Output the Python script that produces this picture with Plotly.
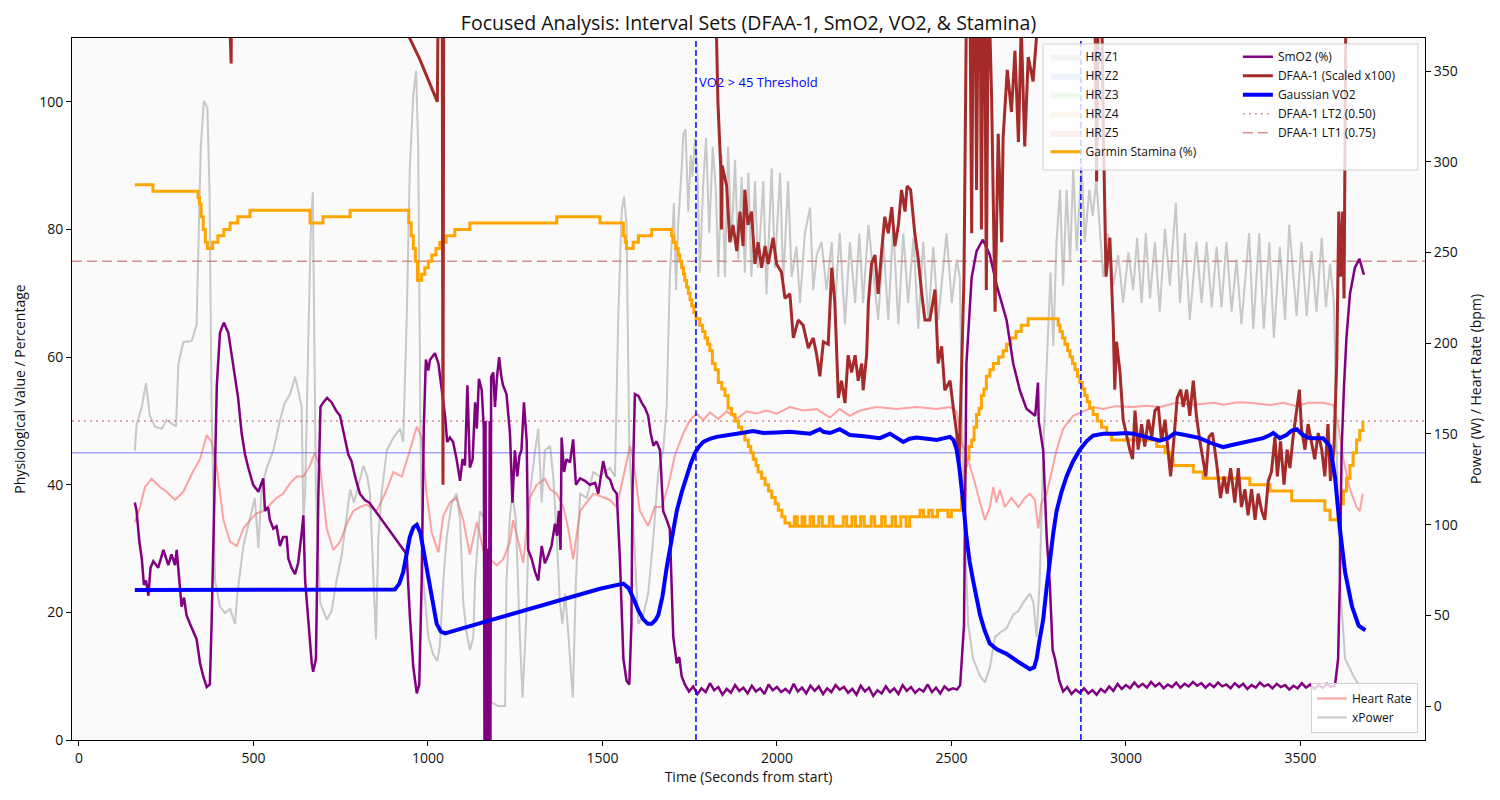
import plotly.graph_objects as go

# ---------------- DATA ----------------
stamina_t = [160, 212, 341, 345, 350, 356, 362, 368, 383, 398, 415, 433, 455, 490, 662, 699, 777,
             945, 952, 958, 964, 970, 982, 991, 1001, 1011, 1023, 1034, 1052, 1077, 1120, 1369, 1493,
             1560, 1565, 1569, 1588, 1603, 1641, 1698, 1703, 1710, 1717, 1722, 1727, 1732, 1736, 1741,
             1746, 1751, 1756, 1762, 1768, 1779, 1787, 1794, 1801, 1808, 1815, 1823, 1832, 1842, 1851,
             1860, 1870, 1880, 1890, 1899, 1908, 1918, 1925, 1932, 1940, 1946, 1956, 1966, 1976, 1985,
             1995, 2004, 2014, 2023, 2037, 2050, 2058, 2072, 2080, 2095, 2105, 2120, 2130, 2150, 2160,
             2190, 2200, 2215, 2225, 2240, 2250, 2270, 2280, 2300, 2310, 2330, 2340, 2355, 2370, 2380,
             2410, 2420, 2435, 2445, 2460, 2490, 2500, 2524, 2529, 2533, 2536, 2540, 2543, 2550, 2558,
             2565, 2572, 2579, 2586, 2593, 2600, 2610, 2620, 2635, 2648, 2658, 2670, 2685, 2700, 2720,
             2806, 2811, 2818, 2825, 2833, 2840, 2847, 2854, 2861, 2868, 2875, 2882, 2889, 2896, 2906,
             2918, 2930, 2945, 2959, 3088, 3112, 3125, 3135, 3193, 3221, 3355, 3413, 3475, 3570, 3585,
             3608, 3615, 3623, 3632, 3642, 3651, 3661, 3670, 3679]
stamina_v = [87, 86, 85, 84, 82, 80, 78, 77, 78, 79, 80, 81, 82, 83, 81, 82, 83,
             81, 79, 77, 75, 72, 73, 74, 75, 76, 77, 78, 79, 80, 81, 82, 81,
             79, 78, 77, 78, 79, 80, 79, 78, 77, 76, 75, 74, 73, 72, 71,
             70, 69, 68, 67, 66, 65, 64, 63, 62, 61, 59, 58, 56, 55, 54,
             52, 51, 50, 49, 48, 47, 46, 45, 44, 43, 42, 41, 40, 39, 38,
             37, 36, 35, 34, 33.5, 35, 33.5, 35, 33.5, 35, 33.5, 35, 33.5, 35, 33.5,
             35, 33.5, 35, 33.5, 35, 33.5, 35, 33.5, 35, 33.5, 35, 33.5, 35, 33.5, 35,
             36, 35, 36, 35, 36, 35, 36, 36, 38, 40, 42, 43, 44, 46, 47,
             49, 51, 52, 54, 55, 57, 58, 59, 60, 61, 62, 63, 64, 65, 66,
             65, 64, 63, 62, 61, 60, 59, 58, 57, 56, 55, 54, 53, 52, 51,
             50, 49, 48, 47, 46, 45, 44, 43, 42, 41, 40, 39, 37.5, 36, 34.5,
             36, 37, 39, 41, 43, 45, 47, 48.5, 50]

smo2_t = [160, 165, 173, 180, 186, 192, 199, 205, 213, 227, 242, 256, 265, 275, 280, 287, 294, 301,
          308, 318, 328, 337, 347, 356, 366, 375, 380, 387, 395, 404, 415, 428, 437, 447, 456, 466,
          476, 485, 499, 514, 528, 533, 542, 547, 557, 566, 576, 585, 595, 600, 609, 619, 628, 638,
          643, 648, 657, 667, 671, 679, 686, 692, 700, 711, 724, 738, 748, 762, 772, 781, 791, 805,
          819, 832, 939, 948, 958, 968, 975, 982, 988, 994, 1001, 1006, 1020, 1030, 1039, 1049, 1055,
          1063, 1072, 1082, 1092, 1099, 1106, 1113, 1120, 1128, 1135, 1140, 1146, 1154, 1160, 1162,
          1165, 1167, 1172, 1174, 1177, 1179, 1181, 1187, 1192, 1198, 1204, 1210, 1215, 1225, 1235,
          1242, 1249, 1256, 1262, 1268, 1275, 1283, 1287, 1297, 1307, 1316, 1326, 1335, 1345, 1354,
          1364, 1370, 1375, 1380, 1383, 1390, 1397, 1407, 1416, 1424, 1436, 1450, 1464, 1479, 1488,
          1502, 1512, 1522, 1531, 1541, 1550, 1560, 1569, 1577, 1583, 1586, 1593, 1603, 1612, 1622,
          1631, 1638, 1646, 1655, 1665, 1674, 1684, 1693, 1703, 1713, 1720, 1727, 1736, 1748, 1760,
          1772, 1784, 1796, 1808, 1820, 1832, 1844, 1856, 1868, 1880, 1892, 1904, 1916, 1928, 1940,
          1952, 1964, 1976, 1988, 2000, 2012, 2024, 2036, 2048, 2060, 2072, 2084, 2096, 2108, 2120,
          2132, 2144, 2156, 2168, 2180, 2192, 2204, 2216, 2228, 2240, 2252, 2264, 2276, 2288, 2300,
          2312, 2324, 2336, 2348, 2360, 2372, 2384, 2396, 2408, 2420, 2432, 2444, 2456, 2468, 2480,
          2492, 2504, 2516, 2525, 2536, 2543, 2558, 2572, 2590, 2610, 2630, 2658, 2677, 2696, 2715,
          2740, 2748, 2750, 2763, 2773, 2782, 2790, 2797, 2809, 2820, 2832, 2844, 2856, 2868, 2880,
          2892, 2904, 2916, 2928, 2940, 2952, 2964, 2976, 2988, 3000, 3012, 3024, 3036, 3048, 3060,
          3072, 3084, 3096, 3108, 3120, 3132, 3144, 3156, 3168, 3180, 3192, 3204, 3216, 3228, 3240,
          3252, 3264, 3276, 3288, 3300, 3312, 3324, 3336, 3348, 3360, 3372, 3384, 3396, 3408, 3420,
          3432, 3444, 3456, 3468, 3480, 3492, 3504, 3516, 3528, 3540, 3552, 3564, 3576, 3588, 3599,
          3608, 3613, 3618, 3625, 3632, 3642, 3656, 3669, 3682]
smo2_v = [37.2, 35.9, 31.1, 28.4, 24.3, 25, 22.6, 27, 28, 27, 29.8, 27.4, 29.1, 27.4, 29.8, 25, 20.9, 22.3,
          19.6, 18.2, 16.8, 15.8, 12, 10, 8.3, 8.7, 18.2, 38.6, 55.6, 63.8, 65.4, 63.8, 60.3, 56.3, 53.6, 48.1,
          44.7, 42.7, 40, 38.9, 41, 35.9, 36.5, 34.5, 33.1, 33.5, 30.4, 31.8, 31.8, 28.4, 27, 26, 27.7, 32.4,
          35.2, 25, 18.2, 12, 10.7, 12.7, 38.6, 52.2, 52.9, 53.6, 52.9, 51.5, 50.8, 47.4, 44.7, 43.7, 41.3, 38.6,
          37.6, 37.2, 29.1, 19.6, 11.4, 7.3, 8.7, 25, 48.8, 59.6, 57.9, 59.6, 60.6, 59, 54.9, 50.8, 46.7,
          47.4, 46.7, 44, 40.6, 44, 43, 55.6, 42.7, 44, 52.9, 48.8, 56.6, 54.9, 48.8, -2,
          50, -2, 30, -2, 50, -2, 56.9, 57.6, 52.2, 57, 60, 57, 55.6, 54.2, 48.1,
          37.2, 45.4, 41.3, 44.5, 45.4, 52.9, 46.8, 29.8, 28.4, 26.3, 25, 30.4, 27.7, 29, 30.4,
          33.9, 32, 35.9, 29.8, 47.4, 42, 44, 43.5, 47.1, 40, 41, 40.6, 40, 40.3, 38.6,
          43.7, 41.3, 40.8, 39.3, 38.6, 28.4, 12.7, 9.3, 8.7, 18.2, 38.6, 54.2, 53.9, 52.9, 52,
          50.8, 48.1, 46.1, 46.8, 45.4, 35.9, 34.5, 33.1, 16.1, 12, 13, 10, 8.7, 7.6, 8.4,
          7.2, 8.1, 7.5, 8.9, 7.8, 8.3, 7.1, 8.0, 7.4, 8.6, 7.7, 8.2, 7.3, 8.5, 7.6,
          8.1, 7.2, 8.7, 7.8, 8.3, 7.5, 8.0, 7.4, 8.8, 7.6, 8.2, 7.3, 8.5, 7.7, 8.4,
          7.2, 8.1, 7.5, 8.6, 7.9, 8.3, 7.4, 8.0, 7.1, 8.5, 7.6, 8.2, 6.9, 7.8, 7.3,
          8.4, 7.5, 8.1, 7.2, 8.6, 7.7, 8.3, 7.4, 8.0, 7.6, 8.7, 7.5, 8.2, 7.3, 8.4,
          7.8, 8.1, 7.9, 8.6, 18, 59, 72.5, 76.6, 78.4, 76, 71.2, 65.8, 59, 54.8, 51.9,
          50.8, 56, 50, 45.4, 31.8, 24.3, 14.1, 12.7, 9.3, 7.6, 8.3, 7.2, 7.9, 7.4, 8.1,
          7.3, 7.8, 7.1, 8.0, 7.5, 8.4, 7.7, 8.8, 8.0, 8.6, 8.1, 9.0, 8.3, 8.8, 8.2,
          9.1, 8.4, 8.9, 8.1, 8.7, 8.3, 9.0, 8.2, 8.8, 8.4, 9.1, 8.5, 8.9, 8.2, 8.8,
          8.3, 9.0, 8.4, 8.7, 8.1, 8.9, 8.3, 8.8, 8.0, 8.6, 8.2, 9.0, 8.4, 8.7, 8.1,
          8.8, 8.3, 8.6, 7.9, 8.5, 8.1, 8.9, 8.2, 8.7, 8.0, 8.6, 8.2, 8.8, 8.3, 8.5,
          12.7, 25, 45.4, 55.6, 63.1, 69.9, 74, 75.4, 72.9]

dfaa_t = [400, 428, 436, 440, 900, 930, 977, 1027, 1034, 1040, 1043, 1046, 1800, 1825, 1831, 1839,
          1841, 1843, 1856, 1865, 1874, 1885, 1894, 1903, 1908, 1917, 1927, 1937, 1946, 1956, 1966,
          1975, 1989, 1999, 2013, 2023, 2037, 2047, 2061, 2075, 2090, 2104, 2114, 2123, 2133, 2147,
          2157, 2166, 2176, 2185, 2195, 2204, 2214, 2224, 2233, 2243, 2247, 2257, 2262, 2271, 2281,
          2290, 2300, 2309, 2319, 2329, 2338, 2348, 2357, 2367, 2373, 2383, 2395, 2405, 2415, 2424,
          2438, 2453, 2462, 2472, 2481, 2496, 2505, 2515, 2522, 2529, 2536, 2543, 2550, 2558, 2565,
          2572, 2580, 2586, 2593, 2600, 2606, 2615, 2625, 2634, 2644, 2648, 2660, 2672, 2682, 2692,
          2700, 2710, 2720, 2734, 2753, 2800, 2905, 2916, 2925, 2935, 2943, 2954, 2964, 2968, 2973,
          2983, 2992, 3002, 3011, 3019, 3026, 3035, 3045, 3054, 3064, 3074, 3083, 3093, 3102, 3112,
          3121, 3128, 3137, 3147, 3157, 3164, 3174, 3183, 3193, 3202, 3212, 3221, 3229, 3238, 3248,
          3260, 3271, 3281, 3290, 3300, 3312, 3322, 3331, 3341, 3350, 3360, 3370, 3379, 3389, 3398,
          3408, 3417, 3427, 3434, 3443, 3453, 3462, 3470, 3479, 3489, 3497, 3503, 3513, 3522, 3532,
          3541, 3551, 3561, 3570, 3579, 3586, 3596, 3604, 3610, 3615, 3621, 3625, 3632, 3690]
dfaa_v = [150, 120, 106, 150, 150, 112, 106.6, 100, 150, 150, 40, 150, 150, 115, 99.8, 89.6,
          80, 90, 86.8, 78, 80.7, 76.6, 82.8, 77.4, 86.2, 80.7, 82.8, 74.6, 78, 74, 77.4,
          74.6, 78.7, 74.6, 73.3, 69.2, 69.9, 63, 65.8, 65, 61.4, 63, 60.3, 57, 62.4, 62,
          74, 68.5, 53.6, 56.3, 52.8, 60.3, 57.6, 60.3, 56.3, 59, 54.8, 60.3, 68.5, 74.6, 76,
          69.9, 76.6, 82, 79.4, 83.5, 77.4, 80.7, 86.2, 82.8, 86.8, 86.2, 79.4, 75.3, 69.9, 65.8,
          65.8, 70.6, 59, 61.7, 54.8, 56.3, 52.2, 48.1, 43.3, 59, 72.6, 115, 140, 79.4, 140,
          86.2, 140, 80, 140, 70.5, 120, 101, 67.1, 95, 78, 94.3, 105, 98.4, 108, 93.7,
          112, 93, 107, 103.2, 115, 150, 150, 87.5, 140, 96.4, 72.6, 78.7, 64.4, 54.9, 62.4,
          57.6, 50.2, 47.5, 45.5, 44, 51.6, 45.5, 49.5, 46, 50.2, 47.5, 51.6, 52.2, 46.8, 50.2,
          45.5, 41.3, 46.8, 53.6, 54.9, 52.2, 54.9, 50.8, 56.3, 50.8, 46.8, 44, 41.3, 47.5, 48.1,
          43.3, 37.9, 41.3, 38.6, 42.6, 37.2, 42.6, 36.5, 39.3, 35.2, 39.3, 34.5, 38.6, 35.9, 34.5,
          40.6, 42, 47.5, 41.3, 46.8, 40, 45.5, 42.6, 47.5, 51.6, 54.9, 48.8, 45.5, 49.5, 46.8,
          44, 48.1, 45.5, 41.3, 49.5, 40.6, 45.5, 59, 82.8, 72.6, 82.8, 69.2, 130, 150]

vo2_t = [160, 905, 918, 929, 948, 958, 968, 978, 987, 1006, 1015, 1025, 1037, 1049, 1187, 1330, 1493,
         1560, 1575, 1588, 1603, 1617, 1630, 1641, 1652, 1660, 1672, 1684, 1698, 1713, 1727, 1741,
         1753, 1765, 1777, 1789, 1808, 1827, 1856, 1885, 1932, 1961, 2000, 2037, 2095, 2123, 2133,
         2152, 2180, 2209, 2250, 2295, 2324, 2345, 2362, 2380, 2400, 2430, 2458, 2480, 2496, 2506,
         2515, 2522, 2529, 2536, 2543, 2552, 2562, 2572, 2582, 2595, 2610, 2630, 2658, 2690, 2725,
         2737, 2744, 2752, 2763, 2772, 2782, 2792, 2801, 2815, 2830, 2848, 2868, 2887, 2906, 2935,
         2970, 3000, 3021, 3050, 3075, 3097, 3120, 3140, 3170, 3212, 3245, 3279, 3310, 3355, 3393,
         3413, 3422, 3441, 3460, 3475, 3490, 3505, 3520, 3537, 3565, 3585, 3599, 3613, 3628, 3648,
         3667, 3686]
vo2_v = [23.5, 23.6, 24.5, 26.3, 31.8, 33.3, 33.7, 32.5, 29.8, 23.7, 20.5, 18.2, 17, 16.7, 18.9, 21.2, 23.7,
         24.5, 23.8, 22.3, 20.3, 18.9, 18.2, 18.2, 18.8, 19.6, 22.5, 27, 31.5, 35.9, 38.8, 41.3,
         43.3, 45, 46, 46.7, 47.2, 47.5, 47.8, 48, 48.4, 48.1, 48.2, 48.3, 48, 48.7, 48.3,
         48.1, 48.7, 47.8, 47.6, 47.3, 48, 47.3, 46.7, 47.2, 47.4, 47.2, 47, 47.3, 47.5, 47,
         45.5, 43, 40, 36, 31.8, 28, 25, 22, 19.6, 17.2, 15.1, 14.2, 13.5, 12.3, 11.1,
         11.4, 12.7, 15.5, 18.9, 23.5, 28.4, 32.5, 35.8, 38.8, 41.3, 43.6, 45.5, 46.8, 47.7, 48,
         48, 48.1, 48, 47.6, 47.3, 46.9, 47.3, 48.1, 47.8, 47.3, 46.5, 45.9, 46.3, 46.9, 47.3,
         47.8, 48.1, 47.3, 47.8, 48.5, 48.7, 47.9, 47.4, 47.3, 47.3, 46, 41.3, 33.2, 26.3, 20.9,
         17.9, 17.2]

hr_t = [160, 175, 189, 208, 232, 251, 275, 299, 323, 347, 366, 380, 395, 414, 433, 452, 471, 490, 509,
        528, 547, 566, 585, 605, 624, 643, 662, 676, 691, 710, 729, 748, 767, 786, 805, 824, 853, 877,
        901, 925, 948, 968, 982, 996, 1011, 1030, 1044, 1063, 1082, 1101, 1120, 1140, 1159, 1178, 1197,
        1216, 1235, 1244, 1259, 1273, 1292, 1311, 1335, 1350, 1369, 1388, 1402, 1416, 1436, 1455, 1474,
        1493, 1521, 1541, 1560, 1579, 1588, 1607, 1631, 1650, 1670, 1689, 1708, 1732, 1751, 1770, 1789,
        1808, 1832, 1856, 1885, 1913, 1942, 1970, 1999, 2037, 2075, 2114, 2152, 2180, 2209, 2238, 2285,
        2343, 2400, 2458, 2496, 2515, 2529, 2543, 2562, 2582, 2596, 2610, 2620, 2629, 2639, 2653, 2672,
        2692, 2710, 2725, 2739, 2749, 2758, 2773, 2782, 2792, 2801, 2820, 2849, 2878, 2906, 2935, 2970,
        3021, 3060, 3097, 3145, 3193, 3252, 3279, 3320, 3355, 3413, 3451, 3489, 3522, 3565, 3594, 3608,
        3623, 3642, 3661, 3670, 3679]
hr_v = [101.4, 109.7, 120.7, 125.3, 120.7, 118.1, 113.6, 118.1, 127.9, 136.2, 149.4, 145.6, 131.3, 102.5,
        90.6, 88.2, 97.8, 102.5, 106.2, 107.5, 111, 114.7, 117, 122.9, 126.5, 126.5, 132.5, 139.7, 131.3,
        97.8, 86, 90.6, 100.3, 107.5, 109.7, 111, 107.5, 117, 129, 126.5, 140.8, 154, 148, 117, 95.4,
        84.7, 105, 112.2, 114.7, 102.5, 83.5, 101.4, 86, 81, 77.5, 81, 90.6, 102.5, 90.6, 78.8, 114.7,
        121.8, 125.3, 119.4, 117, 109.7, 97.8, 81, 107.5, 112.2, 117, 115.8, 113.6, 109.7, 126.5, 143.3,
        136.2, 107.5, 99.2, 109.7, 109.7, 121.8, 138.4, 150.5, 157.7, 161.2, 157.7, 161.9, 158.2, 162.4,
        158.2, 162.4, 161.2, 162.9, 161.2, 164.8, 162.9, 163.7, 159, 163.7, 160, 162.9, 164.8, 163.7,
        164.8, 163.7, 164.8, 162.4, 145.6, 138.5, 126.5, 112.2, 102.5, 109.7, 120.7, 112.2, 119.4, 109.7,
        114.7, 109.7, 114.7, 117, 113.6, 97.8, 112.2, 117, 125.3, 133.7, 140.8, 152.8, 160, 162.4, 164.8,
        163.7, 165.3, 164.8, 165.5, 164.8, 167.2, 166.1, 167.2, 166.1, 167.5, 167.2, 165.9, 167.2, 165.3,
        167.2, 167.2, 165.9, 155.1, 136.2, 119.4, 109.7, 107.5, 117]

xpower_t = [160, 165, 180, 192, 203, 218, 237, 251, 278, 285, 299, 323, 337, 342, 349, 358, 368, 374, 380,
            390, 404, 418, 433, 447, 454, 471, 490, 504, 514, 523, 538, 557, 576, 590, 605, 619, 628, 638,
            643, 648, 657, 664, 670, 673, 679, 691, 710, 724, 738, 753, 762, 777, 788, 800, 815, 826, 834,
            844, 851, 858, 867, 882, 901, 920, 929, 939, 948, 958, 966, 972, 979, 987, 1001, 1015, 1027,
            1034, 1044, 1054, 1068, 1082, 1092, 1101, 1111, 1120, 1130, 1135, 1149, 1163, 1173, 1182, 1201,
            1221, 1225, 1235, 1242, 1252, 1262, 1271, 1281, 1292, 1307, 1316, 1326, 1335, 1350, 1359, 1369,
            1378, 1385, 1393, 1402, 1415, 1424, 1436, 1455, 1474, 1493, 1521, 1536, 1545, 1555, 1562, 1569,
            1577, 1584, 1593, 1603, 1617, 1631, 1646, 1660, 1674, 1684, 1693, 1705, 1711, 1717, 1727, 1732,
            1738, 1746, 1753, 1758, 1765, 1772, 1779, 1789, 1797, 1806, 1816, 1825, 1832, 1842, 1851, 1860,
            1870, 1880, 1889, 1899, 1908, 1918, 1927, 1937, 1946, 1961, 1970, 1985, 1994, 2009, 2018, 2032,
            2042, 2056, 2066, 2080, 2095, 2104, 2114, 2128, 2142, 2157, 2166, 2180, 2195, 2209, 2224, 2236,
            2247, 2262, 2290, 2305, 2319, 2333, 2348, 2362, 2376, 2391, 2405, 2419, 2434, 2448, 2462, 2486,
            2501, 2515, 2524, 2532, 2539, 2548, 2562, 2582, 2596, 2610, 2625, 2639, 2658, 2677, 2692, 2706,
            2725, 2735, 2744, 2753, 2763, 2777, 2784, 2792, 2801, 2811, 2820, 2830, 2840, 2849, 2859, 2873,
            2882, 2895, 2905, 2915, 2925, 2935, 2949, 2964, 2978, 2992, 3007, 3021, 3032, 3045, 3057, 3069,
            3083, 3097, 3112, 3126, 3143, 3155, 3169, 3183, 3202, 3217, 3231, 3246, 3260, 3274, 3288, 3303,
            3317, 3331, 3353, 3365, 3382, 3395, 3411, 3424, 3441, 3456, 3468, 3489, 3503, 3518, 3532, 3546,
            3561, 3573, 3585, 3596, 3604, 3613, 3628, 3652, 3667, 3676]
xpower_v = [140.8, 155.1, 164.8, 178, 160, 154, 152.8, 157.7, 154, 188.7, 200.7, 201.2, 210.3, 255.8, 308.3,
            333.5, 329.8, 284.5, 164.8, 69.1, 54.8, 51.3, 53.5, 45.2, 62, 88.2, 102.5, 114.7, 87.1, 119.4,
            131.3, 140.8, 157.7, 167.2, 172, 181.5, 174.4, 164.8, 102.5, 117, 200.7, 260.5, 283.2, 236.5,
            117, 57.2, 47.6, 52.4, 69.1, 83.5, 97.8, 119.4, 112.2, 121.8, 132.5, 126.5, 117, 69.1, 36.9,
            93.2, 117, 140.8, 148, 152.8, 145.6, 212.8, 296.3, 337, 350.2, 308.3, 140.8, 69.1, 38, 28.4,
            24.8, 33.2, 69.1, 93.2, 112.2, 117, 102.5, 57.2, 40.4, 30.9, 38, 69.1, 107.5, 102.5, 45.2, 2.2,
            0, 0, 69.1, 105, 117, 102.5, 45.2, 4.6, 45.2, 117, 140.8, 152.8, 112.2, 140.8, 143.3, 126.5,
            93.2, 57.2, 45.2, 62, 40.4, 4.6, 69.1, 117, 114.7, 129, 126.5, 131.3, 126.5, 212.8, 272.4,
            280.8, 265.2, 140.8, 117, 81, 45.2, 50.4, 62, 93.2, 129, 140.8, 164.8, 236.5, 277.3, 229.3,
            265.2, 296.3, 315.4, 317.9, 272.4, 303.5, 291.6, 313, 296.3, 238.9, 289.2, 313, 260.5, 308.3,
            284.5, 236.5, 303.5, 236.5, 308.3, 255.8, 301.1, 246.1, 291.6, 238.9, 293.9, 236.5, 289.2,
            241.5, 289.2, 227, 296.3, 241.5, 293.9, 234.3, 289.2, 236.5, 253.3, 222.2, 260.5, 274.8, 229.3,
            248.6, 255.8, 229.3, 255.8, 219.8, 260.5, 210.3, 255.8, 222.2, 260.5, 222.2, 265.2, 212.8,
            255.8, 212.8, 265.2, 210.3, 260.5, 222.2, 258, 207.9, 255.8, 212.8, 253.3, 212.8, 260.5, 222.2,
            246.1, 236.5, 140.8, 93.2, 45.2, 26.1, 16.6, 13, 21.3, 38, 40.4, 42.8, 50.4, 52.4, 57.2, 62, 57,
            38, 69.1, 140.8, 212.8, 238.9, 198.5, 255.8, 284.5, 231.7, 284.5, 245, 296.3, 250.8, 298.8,
            255.8, 284.5, 270, 290, 265.2, 236.5, 260.5, 231.7, 248.6, 222.2, 250, 229.3, 258, 222.2, 260.5,
            224.6, 255.8, 217.4, 263, 231.7, 277.3, 222.2, 260.5, 212.8, 255.8, 222.2, 255.8, 219.8, 253.3,
            219.8, 255.8, 217.4, 246.1, 210.3, 260.5, 207.9, 260.5, 207.9, 255.8, 203, 253.3, 212.8, 265.2,
            215, 255.8, 215, 250.8, 217.4, 258, 219.8, 243.7, 222.2, 140.8, 69.1, 26.1, 16.6, 11.8, 4.6]

zone_names = ["HR Z1", "HR Z2", "HR Z3", "HR Z4", "HR Z5"]
zone_colors = ["#f4f4f4", "#edf2fd", "#ecfbee", "#fdf6ec", "#fdeeee"]

vo2_threshold = 45
dfaa_lt2 = 50
dfaa_lt1 = 75
threshold_times = [1768, 2871]

x_ticks = [0, 500, 1000, 1500, 2000, 2500, 3000, 3500]
left_ticks = [0, 20, 40, 60, 80, 100]
right_ticks = [0, 50, 100, 150, 200, 250, 300, 350]

FONT = "Open Sans"

# ---------------- FIGURE ----------------
fig = go.Figure()

# right-axis series (drawn underneath)
fig.add_trace(go.Scatter(x=hr_t, y=hr_v, mode="lines", name="Heart Rate", yaxis="y",
                         line=dict(color="rgba(255,90,90,0.55)", width=2), legend="legend3"))
fig.add_trace(go.Scatter(x=xpower_t, y=xpower_v, mode="lines", name="xPower", yaxis="y",
                         line=dict(color="rgba(150,150,150,0.5)", width=2), legend="legend3"))

# legend-only HR zones
for nm, col in zip(zone_names, zone_colors):
    fig.add_trace(go.Scatter(x=[None], y=[None], mode="lines", name=nm, yaxis="y2", fill="toself",
                             fillcolor=col, line=dict(color=col, width=0), legend="legend"))

fig.add_trace(go.Scatter(x=stamina_t, y=stamina_v, mode="lines", name="Garmin Stamina (%)", yaxis="y2",
                         line=dict(color="#FFA500", width=3, shape="hv"), legend="legend"))
fig.add_trace(go.Scatter(x=smo2_t, y=smo2_v, mode="lines", name="SmO2 (%)", yaxis="y2",
                         line=dict(color="#800080", width=2.5), legend="legend2"))
fig.add_trace(go.Scatter(x=dfaa_t, y=dfaa_v, mode="lines", name="DFAA-1 (Scaled x100)", yaxis="y2",
                         line=dict(color="#A52A2A", width=3), legend="legend2"))
fig.add_trace(go.Scatter(x=vo2_t, y=vo2_v, mode="lines", name="Gaussian VO2", yaxis="y2",
                         line=dict(color="#0000FF", width=4), legend="legend2"))
fig.add_trace(go.Scatter(x=[None], y=[None], mode="lines", name="DFAA-1 LT2 (0.50)", yaxis="y2",
                         line=dict(color="rgba(190,70,70,0.6)", width=1.5, dash="2px,4px"), legend="legend2"))
fig.add_trace(go.Scatter(x=[None], y=[None], mode="lines", name="DFAA-1 LT1 (0.75)", yaxis="y2",
                         line=dict(color="rgba(190,70,70,0.6)", width=1.5, dash="10px,5px"), legend="legend2"))

shapes = [
    dict(type="line", xref="paper", x0=0, x1=1, yref="y2", y0=vo2_threshold, y1=vo2_threshold,
         line=dict(color="rgba(0,0,255,0.35)", width=1.5), layer="below"),
    dict(type="line", xref="paper", x0=0, x1=1, yref="y2", y0=dfaa_lt2, y1=dfaa_lt2,
         line=dict(color="rgba(190,70,70,0.6)", width=1.5, dash="2px,4px"), layer="below"),
    dict(type="line", xref="paper", x0=0, x1=1, yref="y2", y0=dfaa_lt1, y1=dfaa_lt1,
         line=dict(color="rgba(190,70,70,0.6)", width=1.5, dash="10px,5px"), layer="below"),
]
for tt in threshold_times:
    shapes.append(dict(type="line", xref="x", x0=tt, x1=tt, yref="paper", y0=0, y1=1,
                       line=dict(color="#0000FF", width=1.5, dash="6px,3px"), layer="above"))
# legend frame for the two-column legend
shapes.append(dict(type="rect", xref="paper", yref="paper", x0=0.7177, x1=0.9948, y0=0.812, y1=0.9915,
                   fillcolor="rgba(255,255,255,0.8)", line=dict(color="#d0d0d0", width=1), layer="above"))

# page body has an 8px margin, so the figure is 1492x792 and margins are reduced by 8px
fig.update_layout(
    width=1492, height=792, autosize=False,
    margin=dict(l=64, r=75, t=30, b=60, pad=0),
    paper_bgcolor="white", plot_bgcolor="#fafafa",
    font=dict(family=FONT, size=14, color="#111111"),
    title=dict(text="Focused Analysis: Interval Sets (DFAA-1, SmO2, VO2, & Stamina)",
               x=0.5, xref="paper", xanchor="center", y=1 - 15 / 792, yref="container", yanchor="middle",
               font=dict(family=FONT, size=19.5, color="#111111")),
    xaxis=dict(range=[-20, 3857], tickvals=x_ticks, ticks="outside", ticklen=5, tickcolor="black",
               showline=True, linecolor="black", linewidth=1, mirror=True, showgrid=False, zeroline=False,
               tickfont=dict(size=14),
               title=dict(text="Time (Seconds from start)", standoff=6, font=dict(size=14))),
    yaxis=dict(range=[-18.7, 368.2], side="right", tickvals=right_ticks, ticks="outside", ticklen=5,
               tickcolor="black", showline=True, linecolor="black", linewidth=1, mirror=True,
               showgrid=False, zeroline=False, tickfont=dict(size=14),
               title=dict(text="Power (W) / Heart Rate (bpm)", standoff=14, font=dict(size=14))),
    yaxis2=dict(range=[0, 110], side="left", overlaying="y", tickvals=left_ticks, ticks="outside", ticklen=5,
                tickcolor="black", showline=True, linecolor="black", linewidth=1, showgrid=False,
                zeroline=False, tickfont=dict(size=14),
                title=dict(text="Physiological Value / Percentage", standoff=10, font=dict(size=14))),
    legend=dict(x=0.7195, y=0.994, xanchor="left", yanchor="top", bgcolor="rgba(0,0,0,0)",
                borderwidth=0, font=dict(size=12), tracegroupgap=0),
    legend2=dict(x=0.8617, y=0.994, xanchor="left", yanchor="top", bgcolor="rgba(0,0,0,0)",
                 borderwidth=0, font=dict(size=12), tracegroupgap=0),
    legend3=dict(x=0.9948, y=0.01, xanchor="right", yanchor="bottom", bgcolor="rgba(255,255,255,0.8)",
                 bordercolor="#d0d0d0", borderwidth=1, font=dict(size=12)),
    shapes=shapes,
    annotations=[dict(x=threshold_times[0], y=103.1, xref="x", yref="y2", text="VO2 > 45 Threshold",
                      showarrow=False, xanchor="left", yanchor="middle", xshift=1,
                      font=dict(family=FONT, size=13, color="#0000FF"))],
    hovermode=False,
)

fig.write_html("out.html")
